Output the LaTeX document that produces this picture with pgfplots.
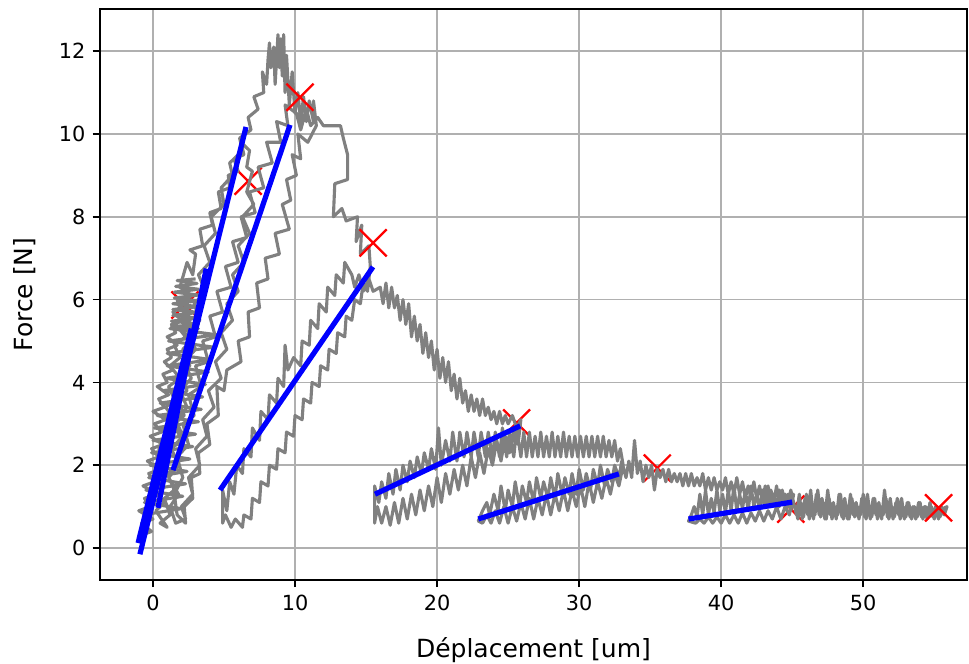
\documentclass[border=0pt]{standalone}
\usepackage{fontspec}
\setmainfont{DejaVu Sans}
\usepackage{pgfplots}
\pgfplotsset{compat=1.18}
\usetikzlibrary{calc}
\definecolor{Grey}{HTML}{808080}
\definecolor{GridC}{HTML}{B0B0B0}
\definecolor{Fit}{HTML}{0000FF}
\definecolor{Mk}{HTML}{FF0000}
\begin{document}
\fontsize{10pt}{12pt}\selectfont
\begin{tikzpicture}
\begin{axis}[
  name=ax,
  scale only axis,
  width=416.2pt, height=274.1pt,
  xmin=-3.73, xmax=57.3,
  ymin=-0.77, ymax=13.02,
  xtick={0,10,...,50},
  ytick={0,2,...,12},
  xtick pos=left, ytick pos=left,
  tick align=outside,
  major tick length=3.5pt,
  tick style={black, line width=0.8pt},
  axis line style={black, line width=0.8pt},
  grid=major,
  major grid style={GridC, line width=0.8pt},
  tick label style={font=\fontsize{10pt}{12pt}\selectfont},
  label style={font=\fontsize{12pt}{14pt}\selectfont},
  xlabel style={yshift=-6pt},
  ylabel style={yshift=4.3pt},
  /pgf/number format/assume math mode=true,
  clip mode=individual,
  xlabel={Déplacement [um]},
  ylabel={Force [N]},
]
% markers partly hidden under the curve
\addplot[only marks, mark=x, mark size=9.2pt, Mk, line width=1.1pt] coordinates {
  (2.25,5.87) (6.7,8.86) (25.6,3.02) (35.5,1.93) (44.9,0.94)
};
% measured curve
\addplot[Grey, line width=1.5pt, line join=round] coordinates {
  (-0.9,0.3) (-0.1,0.4) (-0.8,0.6) (0.0,0.7) (-1.0,0.9) (-0.2,1.0) (-0.6,1.2) (0.3,1.3)
  (-0.7,1.5) (0.1,1.6) (-0.3,1.8) (0.5,1.9) (-0.4,2.1) (0.4,2.2) (-0.1,2.4) (0.7,2.5)
  (-0.2,2.7) (0.6,2.8) (0.1,3.0) (0.9,3.1) (0.0,3.3) (0.8,3.4) (0.4,3.6) (1.1,3.7)
  (0.3,3.9) (1.0,4.0) (0.7,4.2) (1.4,4.3) (0.8,4.5) (1.3,4.6) (1.0,4.8) (1.7,4.9)
  (1.0,5.1) (1.6,5.2) (1.3,5.4) (2.0,5.5) (1.4,5.7) (1.9,5.8) (1.7,6.0) (2.3,5.9)
  (2.6,5.5) (2.0,5.3) (2.7,5.0) (2.1,4.8) (2.6,4.4) (1.9,4.2) (2.4,3.8) (1.7,3.6)
  (2.2,3.2) (1.5,3.0) (2.0,2.6) (1.3,2.4) (1.8,2.0) (1.0,1.8) (1.5,1.4) (0.8,1.2)
  (1.2,0.8) (0.5,0.6) (1.0,0.5)
  (0.2,0.9) (0.8,1.1) (0.0,1.4) (0.7,1.6) (0.3,1.9) (1.1,2.1) (0.4,2.4) (1.1,2.6)
  (0.7,2.9) (1.5,3.1) (0.9,3.4) (1.5,3.6) (1.1,3.9) (1.9,4.1) (1.2,4.4) (1.9,4.6)
  (1.5,4.9) (2.3,5.1) (1.6,5.4) (2.3,5.6) (1.9,5.9) (2.7,6.1) (1.9,6.3) (2.4,6.9)
  (2.8,6.6) (3.0,7.1) (2.6,7.2) (3.5,7.3) (3.3,7.7) (4.2,7.8) (4.0,8.1) (4.8,8.2)
  (4.6,8.6) (5.4,8.7) (5.3,9.0) (6.0,9.1) (5.7,9.4) (6.4,9.5) (6.2,9.8) (6.8,9.6)
  (6.6,9.2) (7.0,9.1)
  (6.6,8.6) (7.1,8.3) (6.3,8.0) (6.8,7.6) (6.0,7.3) (6.4,6.9) (5.6,6.6) (6.0,6.2)
  (5.2,5.9) (5.6,5.5) (4.8,5.2) (5.2,4.8) (4.4,4.5) (4.8,4.1) (3.9,3.8) (4.3,3.4)
  (3.5,3.1) (3.8,2.7) (3.0,2.4) (3.3,2.0) (2.5,1.7) (2.8,1.3) (2.0,1.0) (2.3,0.7) (1.6,0.6)
  (1.2,1.0) (1.8,1.3) (1.1,1.7) (1.8,2.0) (1.3,2.4) (2.1,2.7) (1.6,3.1) (2.4,3.4)
  (1.9,3.8) (2.7,4.1) (2.2,4.5) (3.0,4.8) (2.5,5.2) (3.3,5.5) (2.9,5.9) (3.7,6.2)
  (3.2,6.6) (4.0,6.9) (3.6,7.3) (4.4,7.6) (4.1,8.0) (5.0,8.3) (4.8,8.7) (5.6,9.0)
  (5.4,9.3) (6.3,9.6) (6.1,9.9) (6.9,10.1) (6.7,10.4) (7.4,10.6) (7.1,10.9) (7.8,11.0)
  (7.7,11.5) (8.0,11.2) (8.1,11.8) (8.2,12.2) (8.3,11.6) (8.5,12.1) (8.6,11.2) (8.8,12.4)
  (8.9,11.6) (9.0,12.3) (9.1,11.4) (9.2,12.4) (9.3,11.0) (9.4,11.9) (9.6,10.7) (9.8,11.5)
  (10.0,10.5) (10.2,11.0) (10.4,10.3) (10.6,10.9) (10.8,10.3) (11.0,10.8) (11.3,10.3)
  (11.3,10.8) (11.5,10.2)
  (10.9,9.8) (10.2,10.0) (10.4,9.4) (9.8,9.5) (10.1,9.0) (9.4,8.9) (9.7,8.4) (9.1,8.3)
  (9.6,7.7) (8.6,7.6) (8.9,7.1) (7.9,7.0) (8.1,6.5) (7.3,6.4) (7.5,5.8) (6.7,5.7)
  (6.8,5.1) (6.0,5.0) (6.2,4.5) (5.2,4.3) (5.0,3.8) (4.5,3.9) (4.6,3.2) (3.8,3.0)
  (4.0,2.5) (3.2,2.3) (3.3,1.8) (2.7,1.7) (2.8,1.2) (2.2,1.0) (2.3,0.6) (1.7,0.8)
  (1.5,1.3) (2.1,1.7) (1.7,2.2) (2.5,2.5) (2.1,3.0) (2.9,3.2) (2.5,3.7) (3.4,3.9)
  (3.0,4.4) (3.9,4.5) (3.5,5.0) (4.4,5.1) (4.0,5.6) (4.9,5.7) (4.5,6.2) (5.5,6.3)
  (5.1,6.8) (6.0,6.9) (5.6,7.4) (6.6,7.5) (6.2,8.0) (7.2,8.1) (6.8,8.6) (7.8,8.7)
  (7.4,9.2) (8.4,9.3) (8.0,9.8) (9.0,9.8) (8.7,10.3) (9.5,10.2) (9.3,10.7) (10.1,10.5)
  (10.4,10.1) (10.8,10.6) (11.1,10.2) (11.6,10.4) (12.0,10.2) (13.2,10.2) (13.4,9.9)
  (13.7,9.5) (13.7,8.9) (12.8,8.8) (12.7,8.0) (13.3,8.2) (13.6,7.9) (14.4,8.0)
  (14.3,7.4) (14.7,7.8) (14.6,7.1) (15.2,7.3) (15.3,6.8)
  (15.1,6.2) (14.8,6.4) (14.6,5.9) (14.2,6.0) (14.0,5.5) (13.6,5.6) (13.5,5.1) (13.0,5.2)
  (12.9,4.7) (12.4,4.8) (12.3,4.3) (11.8,4.4) (11.7,3.9) (11.2,4.0) (11.1,3.5) (10.6,3.6)
  (10.5,3.1) (10.0,3.2) (9.9,2.7) (9.4,2.8) (9.3,2.3) (8.8,2.4) (8.7,1.9) (8.2,2.0)
  (8.1,1.5) (7.6,1.6) (7.5,1.1) (7.0,1.2) (6.9,0.7) (6.4,0.8) (6.3,0.5) (5.8,0.7)
  (5.5,0.5) (5.1,0.8) (4.9,0.6) (4.9,1.4) (5.2,0.9) (5.4,1.6)
  (5.7,1.3) (5.9,2.0) (6.3,1.8) (6.4,2.4) (6.9,2.2) (7.0,2.9) (7.5,2.6) (7.6,3.3)
  (8.1,3.1) (8.2,3.7) (8.7,3.5) (8.8,4.1) (9.2,3.9) (9.3,4.9) (9.5,4.3) (9.9,4.6)
  (10.4,4.4) (10.5,5.0) (11.0,4.9) (11.1,5.5) (11.6,5.3) (11.7,5.9) (12.2,5.7) (12.3,6.3)
  (12.8,6.1) (12.9,6.6) (13.4,6.4) (13.5,6.9) (14.0,6.6) (14.2,6.3) (14.5,6.6) (14.8,6.2)
  (15.2,6.5) (15.5,6.2) (16.0,6.3)
  (16.2,5.9) (16.4,6.4) (16.6,5.8) (16.8,6.3) (17.0,5.8) (17.2,6.1) (17.4,5.5) (17.6,6.0)
  (17.8,5.4) (18.0,5.9) (18.2,5.1) (18.4,5.6) (18.6,5.0) (18.8,5.4) (19.0,4.7) (19.2,5.2)
  (19.4,4.6) (19.6,5.0) (19.8,4.3) (20.0,4.8) (20.2,4.1) (20.4,4.6) (20.6,4.0) (20.8,4.5)
  (21.0,3.8) (21.2,4.2) (21.4,3.6) (21.6,4.1) (21.8,3.5) (22.0,3.8) (22.2,3.3) (22.4,3.7)
  (22.6,3.3) (22.8,3.6) (23.0,3.2) (23.2,3.6) (23.4,3.2) (23.6,3.4) (23.8,3.1) (24.0,3.3)
  (24.2,3.0) (24.4,3.3) (24.6,3.0) (24.8,3.2) (25.0,3.0) (25.3,3.2) (25.6,2.9) (25.9,3.1)
  (25.7,2.5) (25.4,2.8) (25.1,2.3) (24.8,2.7) (24.5,2.1) (24.2,2.6) (23.9,2.0) (23.6,2.4)
  (23.3,1.8) (23.0,2.3) (22.7,1.7) (22.4,2.2) (22.1,1.5) (21.8,2.0) (21.5,1.4) (21.2,1.9)
  (20.9,1.3) (20.6,1.8) (20.3,1.1) (20.0,1.7) (19.7,1.0) (19.4,1.5) (19.1,0.9) (18.8,1.4)
  (18.5,0.8) (18.2,1.3) (17.9,0.7) (17.6,1.2) (17.3,0.6) (17.0,1.1) (16.7,0.55) (16.4,1.0)
  (16.1,0.6) (15.8,1.0) (15.6,0.6) (15.6,1.5)
  (15.9,1.1) (16.1,1.6) (16.4,1.2) (16.6,1.8) (16.9,1.3) (17.1,1.9) (17.4,1.4) (17.6,2.0)
  (17.9,1.6) (18.1,2.1) (18.4,1.7) (18.6,2.2) (18.9,1.8) (19.1,2.3) (19.4,1.9) (19.6,2.4)
  (19.9,1.9) (20.1,2.9) (20.3,2.0) (20.6,2.6) (20.9,2.1) (21.1,2.8) (21.4,2.1) (21.6,2.8)
  (21.9,2.2) (22.1,2.8) (22.4,2.2) (22.6,2.8) (22.9,2.2) (23.1,2.8) (23.4,2.2) (23.6,2.8)
  (23.9,2.2) (24.1,2.8) (24.4,2.2) (24.6,2.9) (24.9,2.2) (25.1,2.8) (25.4,2.2) (25.6,2.9)
  (25.9,2.2)
  (26.1,2.8) (26.3,2.2) (26.5,2.8) (26.7,2.2) (26.9,2.7) (27.1,2.2) (27.3,2.8) (27.5,2.2)
  (27.7,2.7) (27.9,2.2) (28.1,2.8) (28.3,2.2) (28.5,2.7) (28.7,2.2) (28.9,2.8) (29.1,2.2)
  (29.3,2.7) (29.5,2.2) (29.7,2.7) (29.9,2.2) (30.1,2.7) (30.3,2.2) (30.5,2.7) (30.7,2.2)
  (30.9,2.7) (31.1,2.2) (31.3,2.7) (31.5,2.2) (31.7,2.7) (31.9,2.2) (32.1,2.6) (32.3,2.2)
  (32.5,2.6) (32.7,2.1) (32.9,2.4) (33.1,2.0)
  (32.8,1.5) (32.5,1.8) (32.2,1.3) (31.9,1.7) (31.6,1.2) (31.3,1.6) (31.0,1.1) (30.7,1.6)
  (30.4,1.0) (30.1,1.5) (29.8,1.0) (29.5,1.4) (29.2,0.9) (28.9,1.4) (28.6,0.9) (28.3,1.3)
  (28.0,0.8) (27.7,1.3) (27.4,0.8) (27.1,1.2) (26.8,0.7) (26.5,1.2) (26.2,0.7) (25.9,1.1)
  (25.6,0.65) (25.3,1.0) (25.0,0.6) (24.7,1.0) (24.4,0.6) (24.1,0.9) (23.8,0.6) (23.5,0.8)
  (23.2,0.6) (22.9,0.65)
  (23.2,0.9) (23.5,1.1) (23.7,0.8) (24.0,1.3) (24.3,0.9) (24.5,1.5) (24.8,0.9) (25.0,1.4)
  (25.3,1.0) (25.5,1.6) (25.8,1.0) (26.0,1.5) (26.3,1.1) (26.5,1.6) (26.8,1.1) (27.0,1.7)
  (27.3,1.2) (27.5,1.6) (27.8,1.2) (28.0,1.7) (28.3,1.2) (28.5,1.8) (28.8,1.3) (29.0,1.7)
  (29.3,1.3) (29.5,1.8) (29.8,1.3) (30.0,1.9) (30.3,1.4) (30.5,1.8) (30.8,1.4) (31.0,1.9)
  (31.3,1.5) (31.5,2.0) (31.8,1.5) (32.0,1.9) (32.3,1.6) (32.5,2.0) (32.8,1.7) (33.0,2.1)
  (33.3,1.7) (33.5,2.1) (33.7,1.7) (33.9,2.6) (34.1,1.8) (34.3,2.1) (34.5,1.6) (34.7,2.0)
  (34.9,1.7) (35.1,2.0) (35.3,1.4) (35.5,1.9) (35.7,1.7) (35.9,1.9) (36.1,1.6) (36.3,1.9)
  (36.5,1.6) (36.7,1.8) (36.9,1.6) (37.1,1.8) (37.3,1.5) (37.5,1.8) (37.7,1.5) (37.9,1.8)
  (38.1,1.5) (38.3,1.7) (38.5,1.5) (38.7,1.8) (38.9,1.4) (39.1,1.7) (39.3,1.4) (39.5,1.7)
  (39.7,1.4) (39.9,1.6) (40.1,1.4) (40.3,1.7) (40.5,1.3) (40.7,1.6) (40.9,1.3) (41.1,1.7)
  (41.3,1.3) (41.5,1.6) (41.7,1.2) (41.9,1.5) (42.1,1.2) (42.3,1.6) (42.5,1.2) (42.7,1.5)
  (42.9,1.1) (43.1,1.5) (43.3,1.1) (43.5,1.4) (43.7,1.1) (43.9,1.5) (44.1,1.0) (44.3,1.4)
  (44.5,1.0) (44.7,1.3) (44.9,0.9) (45.1,1.3)
  (44.8,0.8) (44.5,1.0) (44.2,0.7) (43.9,1.0) (43.6,0.7) (43.3,0.9) (43.0,0.65) (42.7,0.9)
  (42.4,0.65) (42.1,0.85) (41.8,0.6) (41.5,0.85) (41.2,0.6) (40.9,0.8) (40.6,0.6) (40.3,0.8)
  (40.0,0.6) (39.7,0.75) (39.4,0.6) (39.1,0.75) (38.8,0.6) (38.5,0.7) (38.2,0.6) (37.7,0.65)
  (37.9,0.8) (38.1,1.0) (38.3,0.75) (38.5,1.3) (38.7,0.8) (38.9,1.4) (39.1,0.8) (39.3,1.2)
  (39.5,0.85) (39.7,1.4) (39.9,0.9) (40.1,1.3) (40.3,0.85) (40.5,1.4) (40.7,0.9) (40.9,1.5)
  (41.1,0.9) (41.3,1.3) (41.5,0.95) (41.7,1.4) (41.9,0.9) (42.1,1.5) (42.3,1.0) (42.5,1.3)
  (42.7,0.95) (42.9,1.4) (43.1,1.0) (43.3,1.5) (43.5,1.0) (43.7,1.3) (43.9,1.0) (44.1,1.4)
  (44.3,1.05) (44.5,1.3) (44.7,1.0) (44.9,1.4) (45.1,1.1)
  (45.3,0.8) (45.5,1.3) (45.7,0.7) (45.9,1.2) (46.1,0.8) (46.3,1.4) (46.5,0.7) (46.7,1.3)
  (46.9,0.8) (47.1,1.2) (47.3,0.7) (47.5,1.4) (47.7,0.8) (47.9,1.1) (48.1,0.7) (48.3,1.3)
  (48.5,0.75) (48.7,1.2) (48.9,0.7) (49.1,1.3) (49.3,0.8) (49.5,1.1) (49.7,0.7) (49.9,1.2)
  (50.1,0.75) (50.3,1.3) (50.5,0.7) (50.7,1.2) (50.9,0.8) (51.1,1.1) (51.3,0.7) (51.5,1.4)
  (51.7,0.75) (51.9,1.2) (52.1,0.7) (52.3,1.1) (52.5,0.8) (52.7,1.2) (52.9,0.7) (53.1,1.1)
  (53.3,0.75) (53.5,1.0) (53.7,0.7) (53.9,1.1) (54.1,0.75) (54.3,1.0) (54.5,0.7) (54.7,1.1)
  (54.9,0.75) (55.1,1.0) (55.3,0.7) (55.5,1.0) (55.7,0.8) (55.9,1.0)
  (55.6,0.95) (55.4,0.75) (55.2,1.0) (55.0,0.7) (54.8,1.0) (54.6,0.75) (54.4,1.0) (54.2,0.7)
  (54.0,1.1) (53.8,0.75) (53.6,1.0) (53.4,0.7) (53.2,1.1) (53.0,0.75) (52.8,1.0) (52.6,0.7)
  (52.4,1.2) (52.2,0.75) (52.0,1.0) (51.8,0.7) (51.6,1.2) (51.4,0.8) (51.2,1.0) (51.0,0.7)
  (50.8,1.2) (50.6,0.75) (50.4,1.0) (50.2,0.7) (50.0,1.3) (49.8,0.8) (49.6,1.0) (49.4,0.75)
  (49.2,1.2) (49.0,0.7) (48.8,1.0) (48.6,0.7) (48.4,1.3) (48.2,0.8) (48.0,1.0) (47.8,0.7)
  (47.6,1.2) (47.4,0.7) (47.2,1.1) (47.0,0.75) (46.8,1.4) (46.6,0.8) (46.4,1.0) (46.2,0.7)
  (46.0,1.3) (45.8,0.75) (45.6,1.1) (45.4,0.7) (45.2,1.0)
};
% extra passes in the first cluster
\addplot[Grey, line width=1.5pt, line join=round] coordinates {
  (-0.7,0.8) (2.0,0.95) (-0.6,1.1) (2.1,1.25) (-0.5,1.4) (2.3,1.55) (-0.3,1.7) (2.4,1.85)
  (-0.2,2.0) (2.6,2.15) (-0.1,2.3) (2.8,2.45) (0.0,2.6) (3.0,2.75) (0.1,2.9) (3.2,3.05)
  (0.3,3.2) (3.4,3.35) (0.5,3.5) (3.5,3.65) (0.7,3.8) (3.7,3.95) (0.9,4.1) (3.9,4.25)
  (1.0,4.4) (4.1,4.55) (1.0,4.7) (4.3,4.85) (1.1,5.0) (4.5,5.15) (1.2,5.3) (3.2,5.3)
  (1.3,5.34) (3.2,5.41) (1.3,5.48) (3.2,5.55) (1.4,5.62) (3.2,5.69) (1.4,5.76) (3.2,5.83)
  (1.4,5.9) (3.2,5.97) (1.5,6.04) (3.2,6.11) (1.5,6.18) (3.2,6.25) (1.6,6.32) (3.1,6.39)
  (1.7,6.46) (3.0,6.5)
};
% markers on top
\addplot[only marks, mark=x, mark size=9.2pt, Mk, line width=1.1pt] coordinates {
  (10.35,10.89) (15.5,7.37) (55.3,0.97)
};
% linear fits
\addplot[Fit, line width=2.5pt] coordinates {(-1.05,0.12) (2.7,5.3)};
\addplot[Fit, line width=2.5pt] coordinates {(-0.92,-0.15) (6.55,10.17)};
\addplot[Fit, line width=2.5pt] coordinates {(0.35,0.97) (3.75,6.75)};
\addplot[Fit, line width=2.5pt] coordinates {(1.41,1.88) (9.65,10.22)};
\addplot[Fit, line width=2.5pt] coordinates {(4.72,1.40) (15.49,6.79)};
\addplot[Fit, line width=2.5pt] coordinates {(15.63,1.30) (25.85,2.95)};
\addplot[Fit, line width=2.5pt] coordinates {(22.9,0.70) (32.8,1.79)};
\addplot[Fit, line width=2.5pt] coordinates {(37.7,0.70) (45.0,1.11)};
\end{axis}
\pgfresetboundingbox
\path[use as bounding box] ($(ax.south west)+(-48pt,-40.3pt)$) rectangle ($(ax.north east)+(1pt,4.3pt)$);
\end{tikzpicture}
\end{document}
